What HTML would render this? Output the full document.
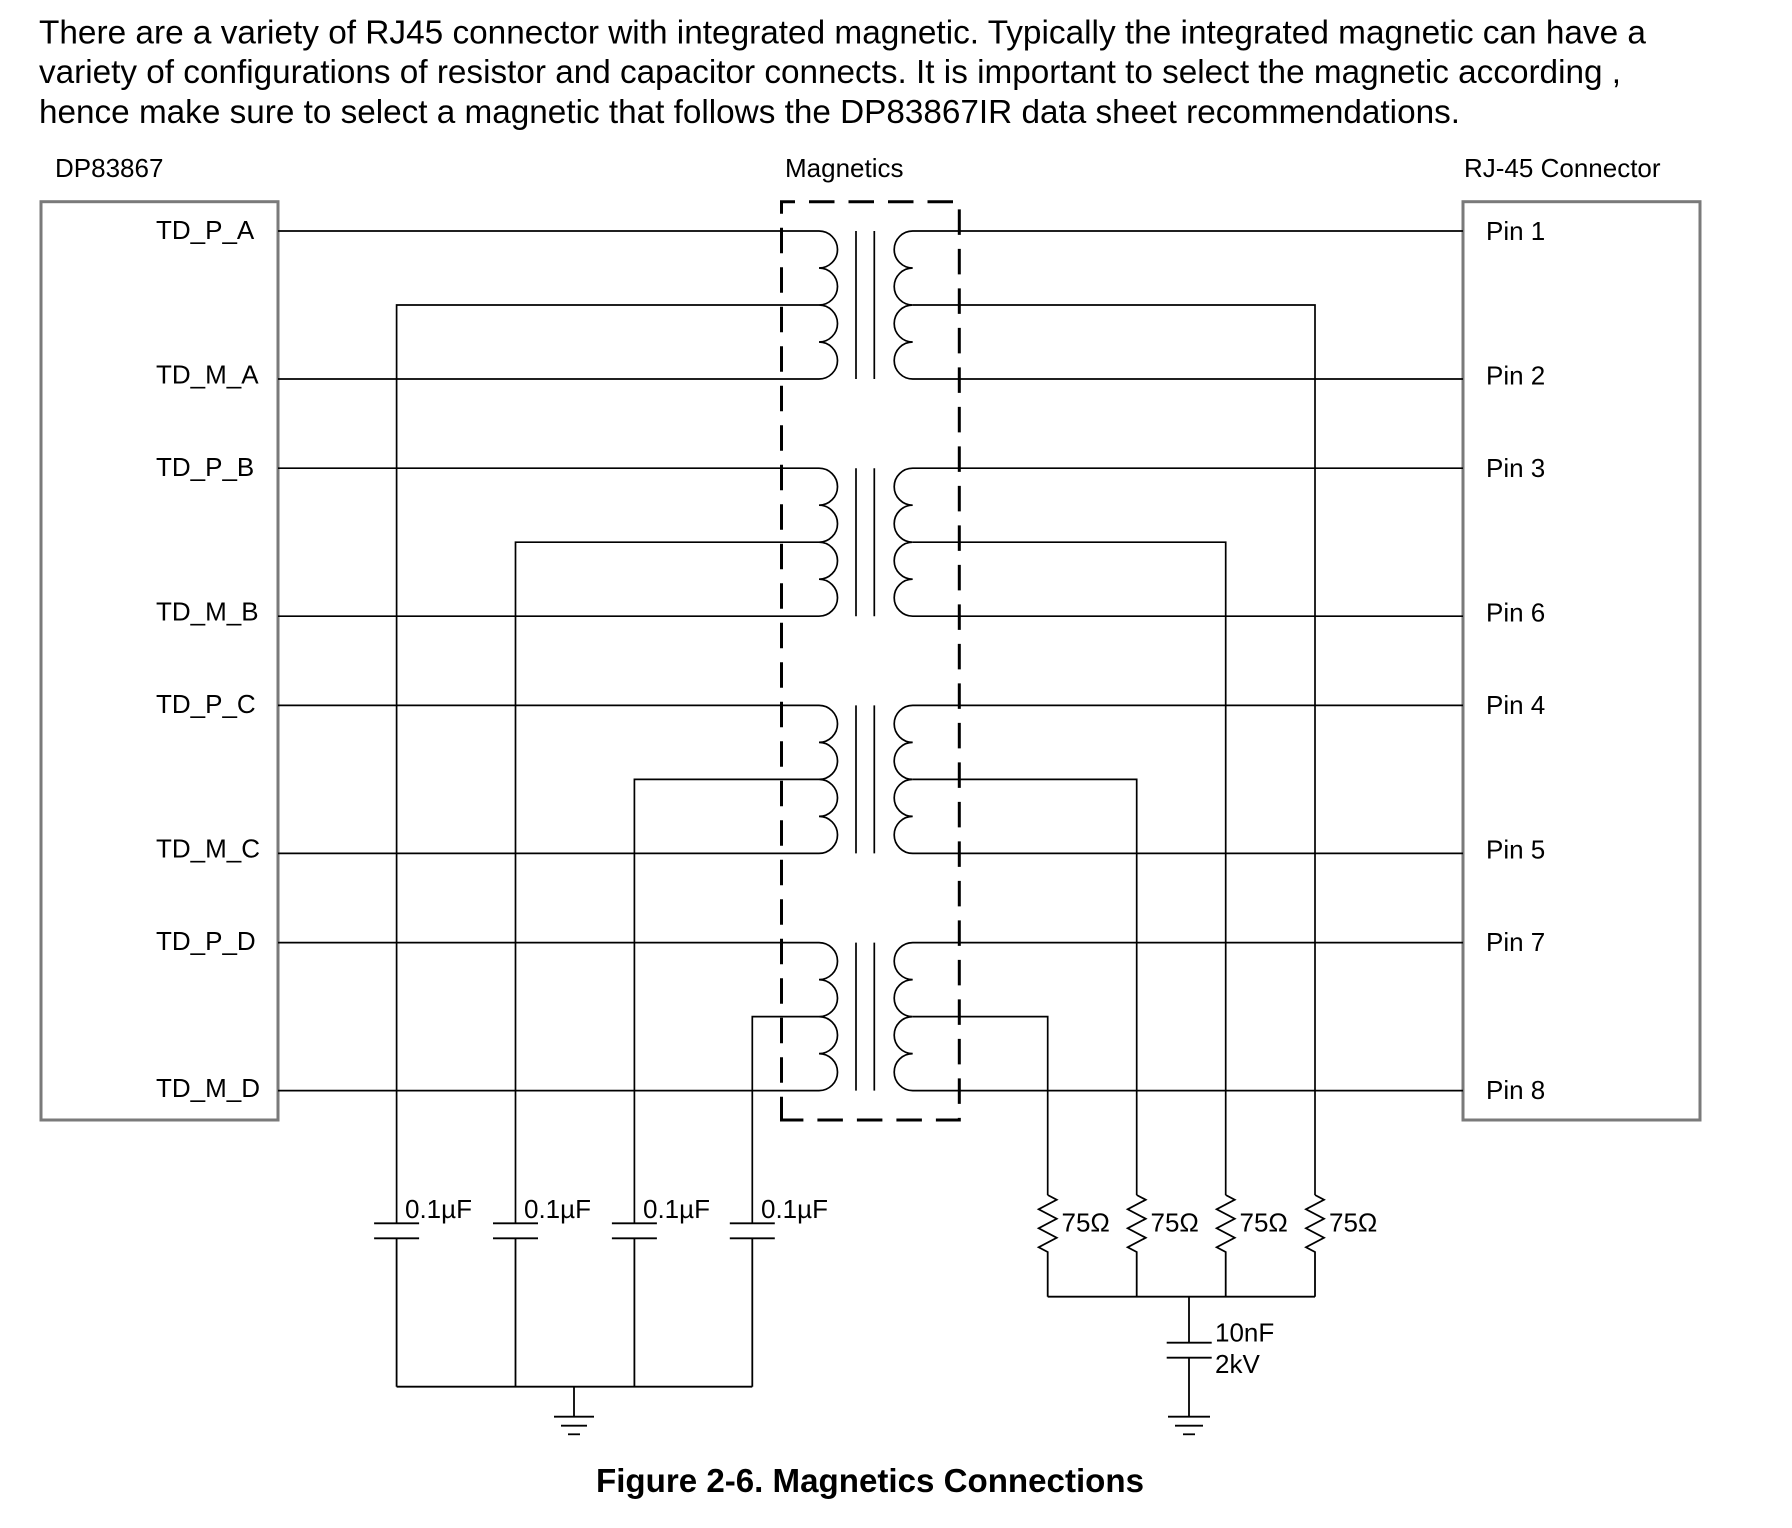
<!DOCTYPE html>
<html>
<head>
<meta charset="utf-8">
<style>
  html, body { margin: 0; padding: 0; background: #ffffff; }
  svg { display: block; }
  text { font-family: "Liberation Sans", Arial, sans-serif; fill: #000; }
</style>
</head>
<body>
<svg width="1792" height="1528" viewBox="0 0 1792 1528" xmlns="http://www.w3.org/2000/svg">
  <rect x="0" y="0" width="1792" height="1528" fill="#fff"/>

  <!-- Paragraph -->
  <g font-size="33">
    <text x="39" y="43.5" textLength="1607" lengthAdjust="spacingAndGlyphs">There are a variety of RJ45 connector with integrated magnetic. Typically the integrated magnetic can have a</text>
    <text x="39" y="83" textLength="1582" lengthAdjust="spacingAndGlyphs">variety of configurations of resistor and capacitor connects. It is important to select the magnetic according ,</text>
    <text x="39" y="123" textLength="1421" lengthAdjust="spacingAndGlyphs">hence make sure to select a magnetic that follows the DP83867IR data sheet recommendations.</text>
  </g>

  <!-- Section labels -->
  <g font-size="26">
    <text x="55" y="177">DP83867</text>
    <text x="785" y="177">Magnetics</text>
    <text x="1464" y="177">RJ-45 Connector</text>
  </g>

  <!-- Boxes -->
  <rect x="41" y="201.7" width="237" height="918.3" fill="none" stroke="#7a7a7a" stroke-width="3"/>
  <rect x="1463" y="201.7" width="237" height="918.3" fill="none" stroke="#7a7a7a" stroke-width="3"/>

  <!-- Pin labels -->
  <g font-size="26">
    <text x="156" y="239">TD_P_A</text>
    <text x="156" y="383.5">TD_M_A</text>
    <text x="156" y="476">TD_P_B</text>
    <text x="156" y="620.5">TD_M_B</text>
    <text x="156" y="713">TD_P_C</text>
    <text x="156" y="857.5">TD_M_C</text>
    <text x="156" y="950">TD_P_D</text>
    <text x="156" y="1097">TD_M_D</text>

    <text x="1486" y="240">Pin 1</text>
    <text x="1486" y="384.5">Pin 2</text>
    <text x="1486" y="477">Pin 3</text>
    <text x="1486" y="621.5">Pin 6</text>
    <text x="1486" y="714">Pin 4</text>
    <text x="1486" y="858.5">Pin 5</text>
    <text x="1486" y="951">Pin 7</text>
    <text x="1486" y="1099">Pin 8</text>
  </g>

  <!-- Transformers -->
  <g fill="none" stroke="#000" stroke-width="1.7">
    <!-- Group A: top 231 -->
    <path d="M278 231 H819 A18.5 18.5 0 0 1 819 268 A18.5 18.5 0 0 1 819 305 A18.5 18.5 0 0 1 819 342 A18.5 18.5 0 0 1 819 379 H278"/>
    <path d="M1463 231 H912.7 A18.5 18.5 0 0 0 912.7 268 A18.5 18.5 0 0 0 912.7 305 A18.5 18.5 0 0 0 912.7 342 A18.5 18.5 0 0 0 912.7 379 H1463"/>
    <line x1="856" y1="231" x2="856" y2="379"/>
    <line x1="874.3" y1="231" x2="874.3" y2="379"/>

    <!-- Group B: top 468.2 -->
    <path d="M278 468.2 H819 A18.5 18.5 0 0 1 819 505.2 A18.5 18.5 0 0 1 819 542.2 A18.5 18.5 0 0 1 819 579.2 A18.5 18.5 0 0 1 819 616.2 H278"/>
    <path d="M1463 468.2 H912.7 A18.5 18.5 0 0 0 912.7 505.2 A18.5 18.5 0 0 0 912.7 542.2 A18.5 18.5 0 0 0 912.7 579.2 A18.5 18.5 0 0 0 912.7 616.2 H1463"/>
    <line x1="856" y1="468.2" x2="856" y2="616.2"/>
    <line x1="874.3" y1="468.2" x2="874.3" y2="616.2"/>

    <!-- Group C: top 705.4 -->
    <path d="M278 705.4 H819 A18.5 18.5 0 0 1 819 742.4 A18.5 18.5 0 0 1 819 779.4 A18.5 18.5 0 0 1 819 816.4 A18.5 18.5 0 0 1 819 853.4 H278"/>
    <path d="M1463 705.4 H912.7 A18.5 18.5 0 0 0 912.7 742.4 A18.5 18.5 0 0 0 912.7 779.4 A18.5 18.5 0 0 0 912.7 816.4 A18.5 18.5 0 0 0 912.7 853.4 H1463"/>
    <line x1="856" y1="705.4" x2="856" y2="853.4"/>
    <line x1="874.3" y1="705.4" x2="874.3" y2="853.4"/>

    <!-- Group D: top 942.6 -->
    <path d="M278 942.6 H819 A18.5 18.5 0 0 1 819 979.6 A18.5 18.5 0 0 1 819 1016.6 A18.5 18.5 0 0 1 819 1053.6 A18.5 18.5 0 0 1 819 1090.6 H278"/>
    <path d="M1463 942.6 H912.7 A18.5 18.5 0 0 0 912.7 979.6 A18.5 18.5 0 0 0 912.7 1016.6 A18.5 18.5 0 0 0 912.7 1053.6 A18.5 18.5 0 0 0 912.7 1090.6 H1463"/>
    <line x1="856" y1="942.6" x2="856" y2="1090.6"/>
    <line x1="874.3" y1="942.6" x2="874.3" y2="1090.6"/>

    <!-- Left center taps to capacitors -->
    <path d="M819 305 H396.6 V1223.3"/>
    <path d="M819 542.2 H515.5 V1223.3"/>
    <path d="M819 779.4 H634.4 V1223.3"/>
    <path d="M819 1016.6 H752.3 V1223.3"/>

    <!-- Right center taps to resistors -->
    <path d="M912.7 305 H1315 V1195"/>
    <path d="M912.7 542.2 H1225.7 V1195"/>
    <path d="M912.7 779.4 H1136.7 V1195"/>
    <path d="M912.7 1016.6 H1047.7 V1195"/>
  </g>

  <!-- Dashed magnetics box -->
  <path d="M781.5 1120 V201.7 H959.3 V1120 Z" fill="none" stroke="#000" stroke-width="3" stroke-dasharray="25.5 14" stroke-dashoffset="2.2"/>

  <!-- Left capacitors -->
  <g fill="none" stroke="#000" stroke-width="1.8">
    <line x1="374.1" y1="1223.3" x2="419.1" y2="1223.3"/>
    <line x1="374.1" y1="1238.3" x2="419.1" y2="1238.3"/>
    <line x1="396.6" y1="1238.3" x2="396.6" y2="1386.7"/>

    <line x1="493" y1="1223.3" x2="538" y2="1223.3"/>
    <line x1="493" y1="1238.3" x2="538" y2="1238.3"/>
    <line x1="515.5" y1="1238.3" x2="515.5" y2="1386.7"/>

    <line x1="611.9" y1="1223.3" x2="656.9" y2="1223.3"/>
    <line x1="611.9" y1="1238.3" x2="656.9" y2="1238.3"/>
    <line x1="634.4" y1="1238.3" x2="634.4" y2="1386.7"/>

    <line x1="729.8" y1="1223.3" x2="774.8" y2="1223.3"/>
    <line x1="729.8" y1="1238.3" x2="774.8" y2="1238.3"/>
    <line x1="752.3" y1="1238.3" x2="752.3" y2="1386.7"/>

    <line x1="396.6" y1="1386.7" x2="752.3" y2="1386.7"/>
    <line x1="574" y1="1386.7" x2="574" y2="1416.7"/>
    <line x1="554" y1="1416.7" x2="594" y2="1416.7"/>
    <line x1="561" y1="1425.7" x2="587" y2="1425.7"/>
    <line x1="568" y1="1434.3" x2="580" y2="1434.3"/>
  </g>
  <g font-size="26">
    <text x="405" y="1218">0.1µF</text>
    <text x="524" y="1218">0.1µF</text>
    <text x="643" y="1218">0.1µF</text>
    <text x="761" y="1218">0.1µF</text>
  </g>

  <!-- Resistors -->
  <g fill="none" stroke="#000" stroke-width="1.8" stroke-linejoin="miter">
    <polyline points="1047.7,1195 1056.7,1199.75 1038.7,1209.25 1056.7,1218.75 1038.7,1228.25 1056.7,1237.75 1038.7,1247.25 1047.7,1252 1047.7,1296.7"/>
    <polyline points="1136.7,1195 1145.7,1199.75 1127.7,1209.25 1145.7,1218.75 1127.7,1228.25 1145.7,1237.75 1127.7,1247.25 1136.7,1252 1136.7,1296.7"/>
    <polyline points="1225.7,1195 1234.7,1199.75 1216.7,1209.25 1234.7,1218.75 1216.7,1228.25 1234.7,1237.75 1216.7,1247.25 1225.7,1252 1225.7,1296.7"/>
    <polyline points="1315,1195 1324,1199.75 1306,1209.25 1324,1218.75 1306,1228.25 1324,1237.75 1306,1247.25 1315,1252 1315,1296.7"/>

    <line x1="1047.7" y1="1296.7" x2="1315" y2="1296.7"/>
    <line x1="1189" y1="1296.7" x2="1189" y2="1342.7"/>
    <line x1="1166.7" y1="1342.7" x2="1211.7" y2="1342.7"/>
    <line x1="1166.7" y1="1357.7" x2="1211.7" y2="1357.7"/>
    <line x1="1189" y1="1357.7" x2="1189" y2="1416.7"/>
    <line x1="1168" y1="1416.7" x2="1210" y2="1416.7"/>
    <line x1="1175" y1="1425.7" x2="1203" y2="1425.7"/>
    <line x1="1183" y1="1434.3" x2="1195" y2="1434.3"/>
  </g>
  <g font-size="26">
    <text x="1061.5" y="1231.5">75Ω</text>
    <text x="1150.5" y="1231.5">75Ω</text>
    <text x="1239.5" y="1231.5">75Ω</text>
    <text x="1329" y="1231.5">75Ω</text>
    <text x="1215" y="1341.5">10nF</text>
    <text x="1215" y="1373">2kV</text>
  </g>

  <!-- Caption -->
  <text x="596" y="1492" font-size="33" font-weight="bold" textLength="548" lengthAdjust="spacingAndGlyphs">Figure 2-6. Magnetics Connections</text>
</svg>
</body>
</html>
